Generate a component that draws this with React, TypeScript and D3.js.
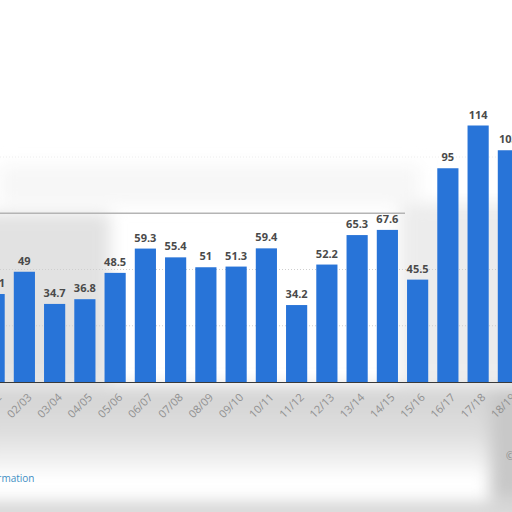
import React, { useEffect, useRef } from 'react';
import * as d3 from 'd3';

const seasons = ['01/02', '02/03', '03/04', '04/05', '05/06', '06/07', '07/08', '08/09', '09/10',
  '10/11', '11/12', '12/13', '13/14', '14/15', '15/16', '16/17', '17/18', '18/19'];
const values = [39.1, 49, 34.7, 36.8, 48.5, 59.3, 55.4, 51, 51.3, 59.4, 34.2, 52.2, 65.3, 67.6, 45.5, 95, 114, 103];
const gridValues = [25, 50, 75, 100];

const App: React.FC = () => {
  const svgRef = useRef<SVGSVGElement>(null);

  useEffect(() => {
    if (!svgRef.current) return;
    const svg = d3.select(svgRef.current);
    svg.selectAll('*').remove();

    const width = 512;
    const height = 512;

    const defs = svg.append('defs');
    defs.append('filter').attr('id', 'blur').attr('x', '-20%').attr('y', '-20%').attr('width', '140%').attr('height', '140%')
      .append('feGaussianBlur').attr('stdDeviation', 8);
    const grad = defs.append('linearGradient').attr('id', 'floor').attr('x1', 0).attr('y1', 0).attr('x2', 0).attr('y2', 1);
    grad.append('stop').attr('offset', '0%').attr('stop-color', '#d2d2d2');
    grad.append('stop').attr('offset', '55%').attr('stop-color', '#dedede');
    grad.append('stop').attr('offset', '100%').attr('stop-color', '#f8f8f8');

    svg.append('rect').attr('width', width).attr('height', height).attr('fill', '#ffffff');

    const x = d3.scaleBand<string>().domain(seasons).range([-21, 523.5]).paddingInner(0.3).paddingOuter(0.15);
    const y = d3.scaleLinear().domain([0, 125]).range([382, 100.75]);

    // soft grey haze behind the plot (blurred photo look)
    const haze = svg.append('g').attr('filter', 'url(#blur)');
    haze.append('rect').attr('x', -20).attr('y', y(75)).attr('width', 130).attr('height', y(0) - y(75)).attr('fill', '#e2e2e2');
    haze.append('rect').attr('x', 400).attr('y', y(75) - 10).attr('width', 140).attr('height', y(0) - y(75) + 10).attr('fill', '#ececec');
    haze.append('rect').attr('x', 0).attr('y', 165).attr('width', 420).attr('height', 40).attr('fill', '#f7f7f7');
    haze.append('rect').attr('x', -20).attr('y', y(0) + 4).attr('width', 560).attr('height', 86).attr('fill', 'url(#floor)');
    haze.append('rect').attr('x', 490).attr('y', 390).attr('width', 40).attr('height', 110).attr('fill', '#c8c8c8');
    haze.append('rect').attr('x', -20).attr('y', 502).attr('width', 560).attr('height', 20).attr('fill', '#d4d4d4');

    // gridlines
    svg.append('g').selectAll('line').data(gridValues).join('line')
      .attr('x1', 0).attr('x2', d => (d === 75 ? 405 : width))
      .attr('y1', d => y(d)).attr('y2', d => y(d))
      .attr('stroke', d => (d === 75 ? '#b4b4b4' : '#cfcfcf'))
      .attr('stroke-width', d => (d === 75 ? 1.5 : 1))
      .attr('stroke-dasharray', d => (d === 75 ? null : '1,2'))
      .attr('opacity', d => (d === 100 ? 0.35 : 1));

    // bars
    svg.append('g').selectAll('rect').data(seasons).join('rect')
      .attr('x', d => x(d)!)
      .attr('y', (d, i) => y(values[i]))
      .attr('width', x.bandwidth())
      .attr('height', (d, i) => y(0) - y(values[i]))
      .attr('fill', '#2874d8');

    // value labels
    svg.append('g').selectAll('text').data(seasons).join('text')
      .attr('x', d => x(d)! + x.bandwidth() / 2)
      .attr('y', (d, i) => y(values[i]) - 7)
      .attr('text-anchor', 'middle')
      .attr('fill', '#4a4a4a')
      .style('font-family', '"Open Sans", "DejaVu Sans", sans-serif')
      .style('font-size', '11px')
      .style('font-weight', '700')
      .text((d, i) => String(values[i]));

    // baseline
    svg.append('line').attr('x1', 0).attr('x2', width).attr('y1', y(0) + 0.5).attr('y2', y(0) + 0.5)
      .attr('stroke', '#3a3a3a').attr('stroke-width', 1.2);

    // category labels
    svg.append('g').selectAll('text').data(seasons).join('text')
      .attr('transform', d => `translate(${x(d)! + x.bandwidth() / 2 + 8},${y(0) + 16}) rotate(-45)`)
      .attr('text-anchor', 'end')
      .attr('fill', '#909090')
      .style('font-family', '"Open Sans", "DejaVu Sans", sans-serif')
      .style('font-size', '11px')
      .text(d => d);

    // footer
    svg.append('text').attr('x', -71).attr('y', 482).attr('fill', '#3f8ec4')
      .style('font-family', '"Open Sans", "DejaVu Sans", sans-serif').style('font-size', '10px')
      .text('Additional Information');
    svg.append('text').attr('x', 506).attr('y', 460).attr('fill', '#8a8a8a')
      .style('font-family', '"Open Sans", "DejaVu Sans", sans-serif').style('font-size', '10px')
      .text('©');
  }, []);

  return (
    <svg ref={svgRef} width={512} height={512} viewBox="0 0 512 512"
      style={{ position: 'absolute', left: 0, top: 0, display: 'block' }} />
  );
};

export default App;
